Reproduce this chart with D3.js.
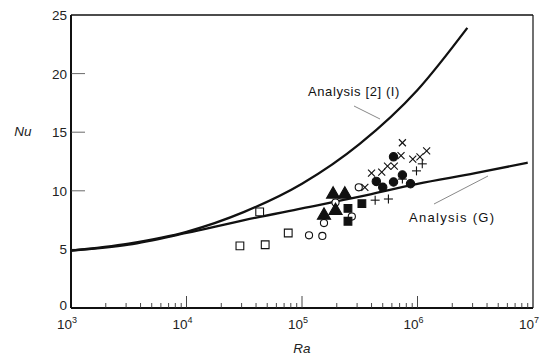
<!DOCTYPE html>
<html lang="en">
<head>
<meta charset="UTF-8">
<script src="https://d3js.org/d3.v7.min.js"></script>
<style>
    body { margin: 0; background: #fff; }
    svg { display: block; font-family: "Liberation Sans", Arial, sans-serif; }
</style>
</head>
<body>
<script>
    /* ---------------- data ---------------- */
    // analysis curves (Ra, Nu)
    const curveI_Ra = [1e3, 3.16e3, 1e4, 3.16e4, 1e5, 3.16e5, 1e6, 2.7e6];
    const curveI_Nu = [4.9, 5.5, 6.5, 8.2, 10.6, 14.0, 18.6, 23.9];
    const curveG_Ra = [1e3, 3.16e3, 1e4, 3.16e4, 1e5, 3.16e5, 1e6, 3.16e6, 9e6];
    const curveG_Nu = [4.9, 5.4, 6.4, 7.5, 8.5, 9.5, 10.6, 11.5, 12.4];

    // experimental points, one pair of arrays per marker
    const openSq_Ra = [2.9e4, 4.8e4, 7.6e4, 4.3e4];
    const openSq_Nu = [5.3, 5.4, 6.4, 8.2];
    const openCi_Ra = [1.15e5, 1.5e5, 1.55e5, 1.95e5, 2.7e5, 3.1e5];
    const openCi_Nu = [6.2, 6.15, 7.25, 9.0, 7.8, 10.3];
    const filTri_Ra = [1.55e5, 1.95e5, 1.86e5, 2.35e5];
    const filTri_Nu = [7.9, 8.3, 9.7, 9.7];
    const filSq_Ra = [2.5e5, 2.5e5, 3.3e5];
    const filSq_Nu = [7.4, 8.5, 8.9];
    const filCi_Ra = [4.4e5, 5.0e5, 6.2e5, 6.2e5, 7.4e5, 8.7e5];
    const filCi_Nu = [10.8, 10.3, 12.9, 10.75, 11.35, 10.6];
    const cross_Ra = [3.5e5, 4.0e5, 4.9e5, 5.5e5, 6.3e5, 7.4e5, 7.2e5, 9.1e5, 1.05e6, 1.2e6];
    const cross_Nu = [10.3, 11.5, 11.6, 12.1, 12.1, 14.1, 13.0, 12.7, 12.9, 13.4];
    const plus_Ra = [4.3e5, 5.6e5, 7.4e5, 9.8e5, 1.1e6];
    const plus_Nu = [9.2, 9.3, 11.0, 11.7, 12.3];

    const yTicks = [0, 5, 10, 15, 20, 25];
    const xDecades = [3, 4, 5, 6, 7];

    /* ---------------- layout ---------------- */
    const W = 544, H = 359;
    const x = d3.scaleLog().domain([1e3, 1e7]).range([71, 533]);
    const y = d3.scaleLinear().domain([0, 25]).range([308, 15]);

    const svg = d3.select("body").append("svg")
        .attr("width", W).attr("height", H);

    const ink = "#111";

    // frame
    svg.append("line").attr("x1", 71).attr("x2", 533).attr("y1", y(0)).attr("y2", y(0))
        .attr("stroke", ink).attr("stroke-width", 2);
    svg.append("line").attr("x1", 71).attr("x2", 71).attr("y1", y(0)).attr("y2", y(25))
        .attr("stroke", ink).attr("stroke-width", 2);
    svg.append("line").attr("x1", 71).attr("x2", 533).attr("y1", y(25)).attr("y2", y(25))
        .attr("stroke", ink).attr("stroke-width", 1.6);
    svg.append("line").attr("x1", 533).attr("x2", 533).attr("y1", y(0)).attr("y2", y(25))
        .attr("stroke", ink).attr("stroke-width", 1.2);

    // y ticks (inward) and labels
    svg.selectAll(".ytick").data(yTicks.filter(d => d > 0 && d < 25)).enter()
        .append("line")
        .attr("x1", 71).attr("x2", 85)
        .attr("y1", d => y(d)).attr("y2", d => y(d))
        .attr("stroke", "#444").attr("stroke-width", 0.8);
    svg.selectAll(".ylab").data(yTicks).enter()
        .append("text")
        .attr("x", 67).attr("y", d => d === 0 ? y(d) + 2 : y(d) + 5)
        .attr("text-anchor", "end")
        .attr("font-size", 13.5).attr("fill", "#222")
        .text(d => d);

    // x ticks: minor 2..9 in each decade, longer at decades
    const minor = [];
    xDecades.slice(0, -1).forEach(p => {
        for (let k = 2; k <= 9; k++) minor.push(k * Math.pow(10, p));
    });
    svg.selectAll(".xminor").data(minor).enter()
        .append("line")
        .attr("x1", d => x(d)).attr("x2", d => x(d))
        .attr("y1", y(0)).attr("y2", y(0) - 5)
        .attr("stroke", "#333").attr("stroke-width", 0.9);
    svg.selectAll(".xmajor").data(xDecades.slice(1, -1)).enter()
        .append("line")
        .attr("x1", d => x(Math.pow(10, d))).attr("x2", d => x(Math.pow(10, d)))
        .attr("y1", y(0)).attr("y2", y(0) - 12)
        .attr("stroke", "#333").attr("stroke-width", 0.9);

    const xl = svg.selectAll(".xlab").data(xDecades).enter()
        .append("text")
        .attr("x", d => x(Math.pow(10, d)) - 4)
        .attr("y", 329)
        .attr("text-anchor", "middle")
        .attr("font-size", 13.5).attr("fill", "#222");
    xl.append("tspan").text("10");
    xl.append("tspan").attr("dy", -6).attr("font-size", 9).text(d => d);

    // axis titles
    svg.append("text").attr("x", 23).attr("y", 136)
        .attr("text-anchor", "middle").attr("font-style", "italic")
        .attr("font-size", 13.5).attr("fill", "#222").text("Nu");
    svg.append("text").attr("x", 302).attr("y", 353)
        .attr("text-anchor", "middle").attr("font-style", "italic")
        .attr("font-size", 13.5).attr("fill", "#222").text("Ra");

    /* ---------------- analysis curves ---------------- */
    const line = d3.line()
        .x(d => x(d[0])).y(d => y(d[1]))
        .curve(d3.curveMonotoneX);
    svg.append("path").datum(d3.zip(curveI_Ra, curveI_Nu))
        .attr("d", line).attr("fill", "none")
        .attr("stroke", ink).attr("stroke-width", 2.3);
    svg.append("path").datum(d3.zip(curveG_Ra, curveG_Nu))
        .attr("d", line).attr("fill", "none")
        .attr("stroke", ink).attr("stroke-width", 2.3);

    // labels with leader lines
    svg.append("text").attr("x", 308).attr("y", 96)
        .attr("font-size", 13).attr("letter-spacing", 0.6).attr("fill", "#111")
        .text("Analysis [2] (I)");
    svg.append("line").attr("x1", 354).attr("y1", 106).attr("x2", 380).attr("y2", 119)
        .attr("stroke", "#555").attr("stroke-width", 0.7);
    svg.append("text").attr("x", 409).attr("y", 222)
        .attr("font-size", 13).attr("letter-spacing", 1.3).attr("fill", "#111")
        .text("Analysis (G)");
    svg.append("line").attr("x1", 434).attr("y1", 204).attr("x2", 488).attr("y2", 176)
        .attr("stroke", "#555").attr("stroke-width", 0.7);

    /* ---------------- data markers ---------------- */
    function symbols(ra, nu, type, size, filled) {
        svg.append("g").selectAll("path").data(d3.zip(ra, nu)).enter()
            .append("path")
            .attr("transform", d => `translate(${x(d[0])},${y(d[1])})`)
            .attr("d", d3.symbol().type(type).size(size))
            .attr("fill", filled ? ink : "#fff")
            .attr("stroke", ink).attr("stroke-width", 1.1);
    }
    function strokes(ra, nu, r, diag) {
        const g = svg.append("g").selectAll("g").data(d3.zip(ra, nu)).enter()
            .append("g")
            .attr("transform", d => `translate(${x(d[0])},${y(d[1])})`);
        const a = diag ? [[-r, -r, r, r], [-r, r, r, -r]] : [[-r, 0, r, 0], [0, -r, 0, r]];
        a.forEach(s => g.append("line")
            .attr("x1", s[0]).attr("y1", s[1]).attr("x2", s[2]).attr("y2", s[3])
            .attr("stroke", ink).attr("stroke-width", 1.1));
    }

    symbols(openSq_Ra, openSq_Nu, d3.symbolSquare, 60, false);
    symbols(openCi_Ra, openCi_Nu, d3.symbolCircle, 40, false);
    symbols(filTri_Ra, filTri_Nu, d3.symbolTriangle, 75, true);
    symbols(filSq_Ra, filSq_Nu, d3.symbolSquare, 60, true);
    symbols(filCi_Ra, filCi_Nu, d3.symbolCircle, 55, true);
    strokes(cross_Ra, cross_Nu, 3.5, true);
    strokes(plus_Ra, plus_Nu, 4.5, false);
</script>
</body>
</html>
